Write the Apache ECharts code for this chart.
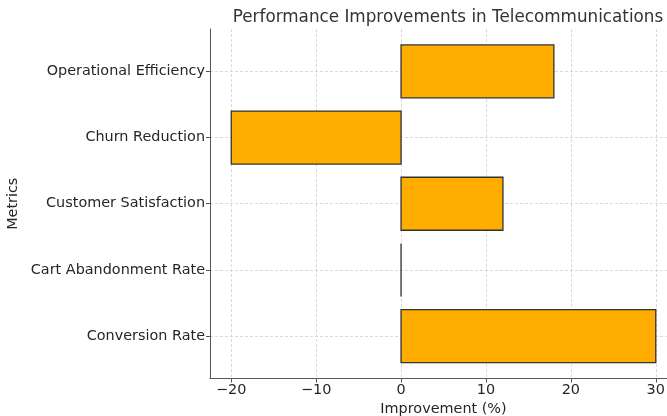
<!DOCTYPE html>
<html>
<head>
<meta charset="utf-8">
<script src="https://cdn.jsdelivr.net/npm/echarts@6/dist/echarts.min.js"></script>
<style>html,body{margin:0;padding:0;background:#fff;}#c{width:667px;height:416px;}</style>
</head>
<body>
<div id="c"></div>
<script>
const categories = ["Conversion Rate", "Cart Abandonment Rate", "Customer Satisfaction", "Churn Reduction", "Operational Efficiency"];
const improvements = [30, 0, 12, -20, 18];
const xTicks = [-20, -10, 0, 10, 20, 30];
const yTicks = [0, 1, 2, 3, 4];

const chart = echarts.init(document.getElementById('c'), null, {renderer: 'canvas'});
const font = 'DejaVu Sans';
const data = improvements.map((v, i) => [v, i]);

chart.setOption({
  animation: false,
  backgroundColor: '#fff',
  title: {
    text: 'Performance Improvements in Telecommunications',
    left: 443, top: 4, textAlign: 'center',
    textStyle: {fontFamily: font, fontSize: 16.8, fontWeight: 'normal', color: '#333'}
  },
  grid: {left: 210, top: 29, width: 467, height: 349.5, containLabel: false, outerBoundsMode: 'none'},
  xAxis: {
    type: 'value', min: -22.5, max: 32.5,
    name: 'Improvement (%)', nameLocation: 'middle', nameGap: 24,
    nameTextStyle: {fontFamily: font, fontSize: 14.4, color: '#262626'},
    axisLine: {show: true, onZero: false, lineStyle: {color: '#555', width: 1}},
    axisTick: {show: true, length: 4, customValues: xTicks, lineStyle: {color: '#555'}},
    axisLabel: {customValues: xTicks, fontFamily: font, fontSize: 14.4, color: '#262626', margin: 5,
      formatter: v => (v < 0 ? '\u2212' + Math.abs(v) : String(v))},
    splitLine: {show: true, lineStyle: {color: '#d0d0d0', type: [3, 2], width: 0.8}}
  },
  yAxis: {
    type: 'value', min: -0.64, max: 4.64,
    name: 'Metrics', nameLocation: 'middle', nameGap: 183, nameRotate: 90,
    nameTextStyle: {fontFamily: font, fontSize: 14.4, color: '#262626'},
    axisLine: {show: true, onZero: false, lineStyle: {color: '#555', width: 1}},
    axisTick: {show: true, length: 4, customValues: yTicks, lineStyle: {color: '#555'}},
    axisLabel: {customValues: yTicks, fontFamily: font, fontSize: 14.4, color: '#262626', margin: 5,
      formatter: v => categories[Math.round(v)] || ''},
    splitLine: {show: true, lineStyle: {color: '#d0d0d0', type: [3, 2], width: 0.8}}
  },
  series: [{
    type: 'custom',
    data: data,
    encode: {x: 0, y: 1},
    renderItem: function (params, api) {
      const v = api.value(0), idx = api.value(1);
      const p0 = api.coord([0, idx]);
      const p1 = api.coord([v, idx]);
      const h = api.size([0, 0.8])[1];
      const x = Math.min(p0[0], p1[0]);
      const w = Math.abs(p1[0] - p0[0]);
      return {
        type: 'rect',
        shape: {x: x, y: p0[1] - h / 2, width: w, height: h},
        style: {fill: '#ffad00', stroke: '#333', lineWidth: 1.3}
      };
    }
  }]
});
</script>
</body>
</html>
